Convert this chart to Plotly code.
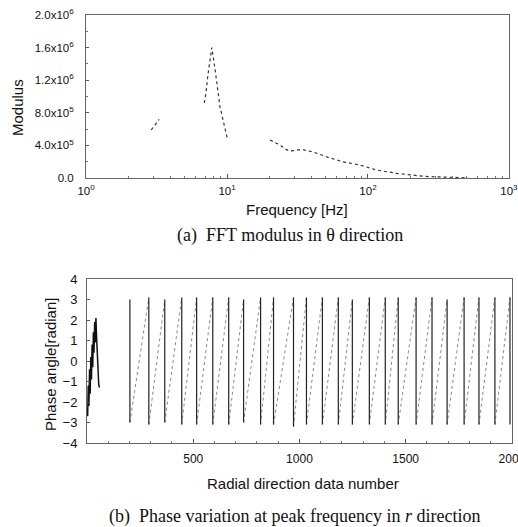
import plotly.graph_objects as go

W, H = 518, 527

# ---------------- (a) FFT modulus data ----------------
freq_hz = [2.9, 3.1, 3.3, None,
           6.9, 7.1, 7.3, 7.5, 7.8, 8.2, 8.6, 8.9, 10.0, None,
           20.2, 23.8, 25.8, 28.0, 33.8, 40.7, 50.9, 66.0, 87.6, 115.0,
           160.0, 199.0, 250.0, 380.0, 500.0]
modulus = [0.59e6, 0.65e6, 0.72e6, None,
           0.92e6, 1.05e6, 1.25e6, 1.42e6, 1.60e6, 1.35e6, 1.06e6, 0.88e6, 0.50e6, None,
           0.466e6, 0.405e6, 0.356e6, 0.33e6, 0.35e6, 0.32e6, 0.26e6, 0.20e6, 0.16e6, 0.098e6,
           0.057e6, 0.037e6, 0.02e6, 0.009e6, 0.002e6]

mod_tickvals = [0, 4e5, 8e5, 1.2e6, 1.6e6, 2.0e6]
mod_ticktext = ["0.0", "4.0x10<sup>5</sup>", "8.0x10<sup>5</sup>",
                "1.2x10<sup>6</sup>", "1.6x10<sup>6</sup>", "2.0x10<sup>6</sup>"]
freq_tickvals = [1, 10, 100, 1000]
freq_ticktext = ["10<sup>0</sup>", "10<sup>1</sup>", "10<sup>2</sup>", "10<sup>3</sup>"]

# ---------------- (b) phase data ----------------
# noisy cluster at the start
noise_index = [3, 6, 9, 12, 15, 18, 21, 24, 27, 30, 33, 36, 39, 42, 45, 48, 51, 55, 58]
noise_phase = [-2.7, -1.2, -2.2, -0.4, -1.6, 0.2, -0.9, 0.8, -0.3, 1.4, 0.4, 1.9, 0.9, 2.1, 1.2, 0.3, -0.6, -1.1, -1.3]
# phase wraps (+pi -> -pi) along the radial data number
wrap_index = [202, 291, 366, 446, 516, 592, 667, 737, 817, 878, 972, 1033, 1108,
              1183, 1249, 1329, 1404, 1465, 1549, 1624, 1695, 1775, 1845, 1920, 1991]
wrap_top = [3.0, 3.1, 3.0, 3.1, 3.1, 3.1, 3.1, 3.0, 3.1, 3.1, 3.1, 3.1, 3.1,
            3.1, 3.0, 3.1, 3.1, 3.1, 3.1, 3.1, 3.0, 3.1, 3.1, 3.1, 3.1]
wrap_bottom = [-3.0, -3.1, -3.0, -3.1, -3.1, -3.1, -3.1, -3.0, -3.1, -3.1, -3.2, -3.1, -3.1,
               -3.1, -3.1, -3.1, -3.1, -3.1, -3.1, -3.1, -3.1, -3.1, -3.1, -3.1, -3.1]

phase_ticks = [-4, -3, -2, -1, 0, 1, 2, 3, 4]
radial_ticks = [500, 1000, 1500, 2000]

# build polylines from the arrays
vx, vy = [], []
for i, t, b in zip(wrap_index, wrap_top, wrap_bottom):
    vx += [i, i, None]
    vy += [t, b, None]
sx, sy = [], []
for k in range(len(wrap_index) - 1):
    sx += [wrap_index[k], wrap_index[k + 1], None]
    sy += [wrap_bottom[k], wrap_top[k + 1], None]

fig = go.Figure()
fig.add_trace(go.Scatter(x=freq_hz, y=modulus, mode="lines", connectgaps=False,
                         line=dict(color="#333", width=1.2, dash="dot"),
                         xaxis="x", yaxis="y", showlegend=False))
fig.add_trace(go.Scatter(x=sx, y=sy, mode="lines",
                         line=dict(color="#888", width=1, dash="dot"),
                         xaxis="x2", yaxis="y2", showlegend=False))
fig.add_trace(go.Scatter(x=vx, y=vy, mode="lines",
                         line=dict(color="#222", width=1.2),
                         xaxis="x2", yaxis="y2", showlegend=False))
fig.add_trace(go.Scatter(x=noise_index, y=noise_phase, mode="lines",
                         line=dict(color="#111", width=1.5),
                         xaxis="x2", yaxis="y2", showlegend=False))

def px(x):
    return x / W

def py(y):
    return 1 - y / H

tickfont = dict(family="Liberation Sans, Arial", size=11.5, color="#111")
axline = dict(showline=True, mirror=True, linecolor="#666", linewidth=1,
              showgrid=False, zeroline=False, automargin=False, tickcolor="#555",
              ticklabeloverflow="allow")

fig.update_layout(
    width=W, height=H, template="none",
    paper_bgcolor="white", plot_bgcolor="white",
    margin=dict(l=0, r=0, t=0, b=0),
    showlegend=False,
    xaxis=dict(domain=[px(86), px(509)], anchor="y", type="log", range=[-0.0005, 3.0005],
               tickvals=freq_tickvals, ticktext=freq_ticktext, ticks="inside", ticklen=4,
               minor=dict(ticks="inside", ticklen=2, dtick="D1", tickcolor="#777"),
               tickfont=tickfont, ticklabelstandoff=2, **axline),
    yaxis=dict(domain=[py(178), py(15)], anchor="x", range=[0, 2.0e6],
               tickvals=mod_tickvals, ticktext=mod_ticktext, ticks="inside", ticklen=3,
               minor=dict(ticks="inside", ticklen=2, dtick=2e5, tickcolor="#777"),
               tickfont=tickfont, ticklabelstandoff=9, **axline),
    xaxis2=dict(domain=[px(87), px(512)], anchor="y2", range=[0, 2000.5],
                tickvals=radial_ticks, ticks="inside", ticklen=4,
                minor=dict(ticks="inside", ticklen=2, dtick=100, tickcolor="#777"),
                tickfont=dict(family="Liberation Sans, Arial", size=12, color="#111"),
                ticklabelstandoff=5, **axline),
    yaxis2=dict(domain=[py(443), py(279)], anchor="x2", range=[-4, 4],
                tickvals=phase_ticks, ticks="inside", ticklen=3,
                tickfont=dict(family="Liberation Sans, Arial", size=13, color="#111"),
                ticklabelstandoff=6, **axline),
)

sans = dict(family="Liberation Sans, Arial", size=15, color="#111")
serif = dict(family="Liberation Serif, Times New Roman", size=18, color="#111")
ann = [
    ("Modulus", 17, 108, -90, sans),
    ("Frequency [Hz]", 297, 210, 0, sans),
    ("(a)&nbsp;&nbsp;FFT modulus in θ direction", 290, 236, 0, serif),
    ("Phase angle[radian]", 50, 365, -90, sans),
    ("Radial direction data number", 303, 483, 0, sans),
    ("(b)&nbsp;&nbsp;Phase variation at peak frequency in <i>r</i> direction", 294, 516, 0, serif),
]
for text, x, y, ang, f in ann:
    fig.add_annotation(text=text, x=px(x), y=py(y), xref="paper", yref="paper",
                       xanchor="center", yanchor="middle", textangle=ang,
                       showarrow=False, font=f)

fig.write_html("out.html", config={"displayModeBar": False},
               post_script="document.body.style.margin='0';document.body.style.padding='0';")
